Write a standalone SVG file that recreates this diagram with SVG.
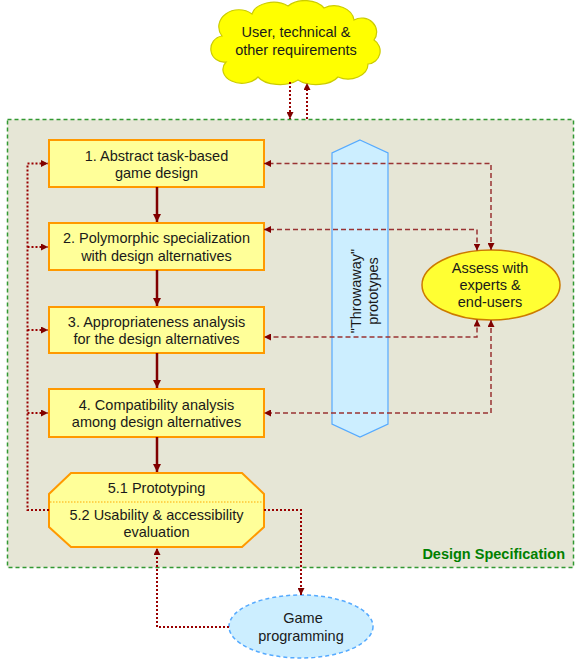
<svg xmlns="http://www.w3.org/2000/svg" width="580" height="664" viewBox="0 0 580 664">
<defs>
<style>
text{font-family:"Liberation Sans",Arial,sans-serif;font-size:14.5px;fill:#1a1a1a;text-anchor:middle}
.box{fill:#FFFF99;stroke:#FF9900;stroke-width:2}
.solid{fill:none;stroke:#800000;stroke-width:2.5}
.dash{fill:none;stroke:#993333;stroke-width:1.5;stroke-dasharray:5,3}
.dot{fill:none;stroke:#990000;stroke-width:2;stroke-dasharray:2,2}
</style>
<marker id="ah" viewBox="0 0 8 8" refX="8" refY="4" markerWidth="8" markerHeight="8" markerUnits="userSpaceOnUse" orient="auto-start-reverse">
<path d="M0,0 L8,4 L0,8 z" fill="#800000"/>
</marker>
<marker id="ahs" viewBox="0 0 8 8" refX="8" refY="4" markerWidth="7" markerHeight="7" markerUnits="userSpaceOnUse" orient="auto-start-reverse">
<path d="M0,0 L8,4 L0,8 z" fill="#800000"/>
</marker>
</defs>
<rect width="580" height="664" fill="#ffffff"/>
<g id="design-specification">
<rect x="7.5" y="119.5" width="566" height="448" fill="#E6E6D6" stroke="#339933" stroke-width="1.5" stroke-dasharray="4,3"/>
<text x="565" y="559" style="font-weight:bold;fill:#008000;text-anchor:end">Design Specification</text>
</g>
<g id="requirements">
<path d="M226,62 A13,13 0 0 1 222,36 A20,17 0 0 1 252,14 A22,15 0 0 1 288,6 A22,15 0 0 1 324,8 A20,16 0 0 1 354,20 A15,14 0 0 1 374,40 A13,13 0 0 1 368,64 A20,15 0 0 1 338,77 A24,13 0 0 1 298,80 A24,13 0 0 1 258,77 A18,13 0 0 1 226,62 Z" fill="#FFFF00" stroke="#CCCC00" stroke-width="1.2"/>
<text x="296" y="37">User, technical &amp;</text>
<text x="296" y="55">other requirements</text>
</g>
<g id="throwaway">
<polygon points="360,140 388,153 388,424 360,437 332,424 332,153" fill="#CCEEFF" stroke="#55AAFF" stroke-width="1.2"/>
<text transform="translate(362,291) rotate(-90)"><tspan x="0" y="-1">"Throwaway"</tspan><tspan x="0" y="16">prototypes</tspan></text>
</g>
<g id="step1">
<rect class="box" x="49" y="140" width="215" height="47"/>
<text x="156.5" y="160.5">1. Abstract task-based</text>
<text x="156.5" y="178">game design</text>
</g>
<g id="step2">
<rect class="box" x="49" y="223" width="215" height="47"/>
<text x="156.5" y="243">2. Polymorphic specialization</text>
<text x="156.5" y="260.5">with design alternatives</text>
</g>
<g id="step3">
<rect class="box" x="49" y="307" width="215" height="46"/>
<text x="156.5" y="326.5">3. Appropriateness analysis</text>
<text x="156.5" y="344">for the design alternatives</text>
</g>
<g id="step4">
<rect class="box" x="49" y="389" width="215" height="48"/>
<text x="156.5" y="409.5">4. Compatibility analysis</text>
<text x="156.5" y="427">among design alternatives</text>
</g>
<g id="step5">
<polygon class="box" points="71,473 242,473 264,494 264,527 242,547 71,547 49,527 49,494"/>
<line x1="50" y1="502" x2="263" y2="502" stroke="#FFAA00" stroke-width="1" stroke-dasharray="1.5,1.5"/>
<text x="156.5" y="492.5">5.1 Prototyping</text>
<text x="156.5" y="520">5.2 Usability &amp; accessibility</text>
<text x="156.5" y="537">evaluation</text>
</g>
<g id="assess">
<ellipse cx="491" cy="285" rx="69" ry="35" fill="#FFFF33" stroke="#CC7A00" stroke-width="1.5"/>
<text x="490" y="273">Assess with</text>
<text x="490" y="290">experts &amp;</text>
<text x="490" y="307">end-users</text>
</g>
<g id="game-programming">
<ellipse cx="301" cy="626.5" rx="72" ry="31.5" fill="#CCEEFF" stroke="#55AAFF" stroke-width="1.5" stroke-dasharray="4,3"/>
<text x="303" y="623">Game</text>
<text x="301" y="641">programming</text>
</g>
<g id="connectors">
<path class="dot" d="M290,82 L290,119" marker-end="url(#ahs)"/>
<path class="dot" d="M307,119 L307,83" marker-end="url(#ahs)"/>
<path class="solid" d="M157,187 L157,222" marker-end="url(#ah)"/>
<path class="solid" d="M157,270 L157,306" marker-end="url(#ah)"/>
<path class="solid" d="M157,353 L157,388" marker-end="url(#ah)"/>
<path class="solid" d="M157,437 L157,472" marker-end="url(#ah)"/>
<path class="dash" d="M491,250 L491,163.5 L264,163.5" marker-start="url(#ahs)" marker-end="url(#ahs)"/>
<path class="dash" d="M477,250.5 L477,229.5 L264,229.5" marker-start="url(#ahs)" marker-end="url(#ahs)"/>
<path class="dash" d="M477,319.5 L477,337 L264,337" marker-start="url(#ahs)" marker-end="url(#ahs)"/>
<path class="dash" d="M491,320 L491,413 L264,413" marker-start="url(#ahs)" marker-end="url(#ahs)"/>
<path class="dot" d="M49,510 L27.5,510 L27.5,163.5 L48,163.5" marker-end="url(#ahs)"/>
<path class="dot" d="M27.5,247 L48,247" marker-end="url(#ahs)"/>
<path class="dot" d="M27.5,330 L48,330" marker-end="url(#ahs)"/>
<path class="dot" d="M27.5,413 L48,413" marker-end="url(#ahs)"/>
<path class="dot" d="M264,510 L301,510 L301,595" marker-end="url(#ahs)"/>
<path class="dot" d="M229,627 L157,627 L157,548" marker-end="url(#ahs)"/>
</g>
</svg>
